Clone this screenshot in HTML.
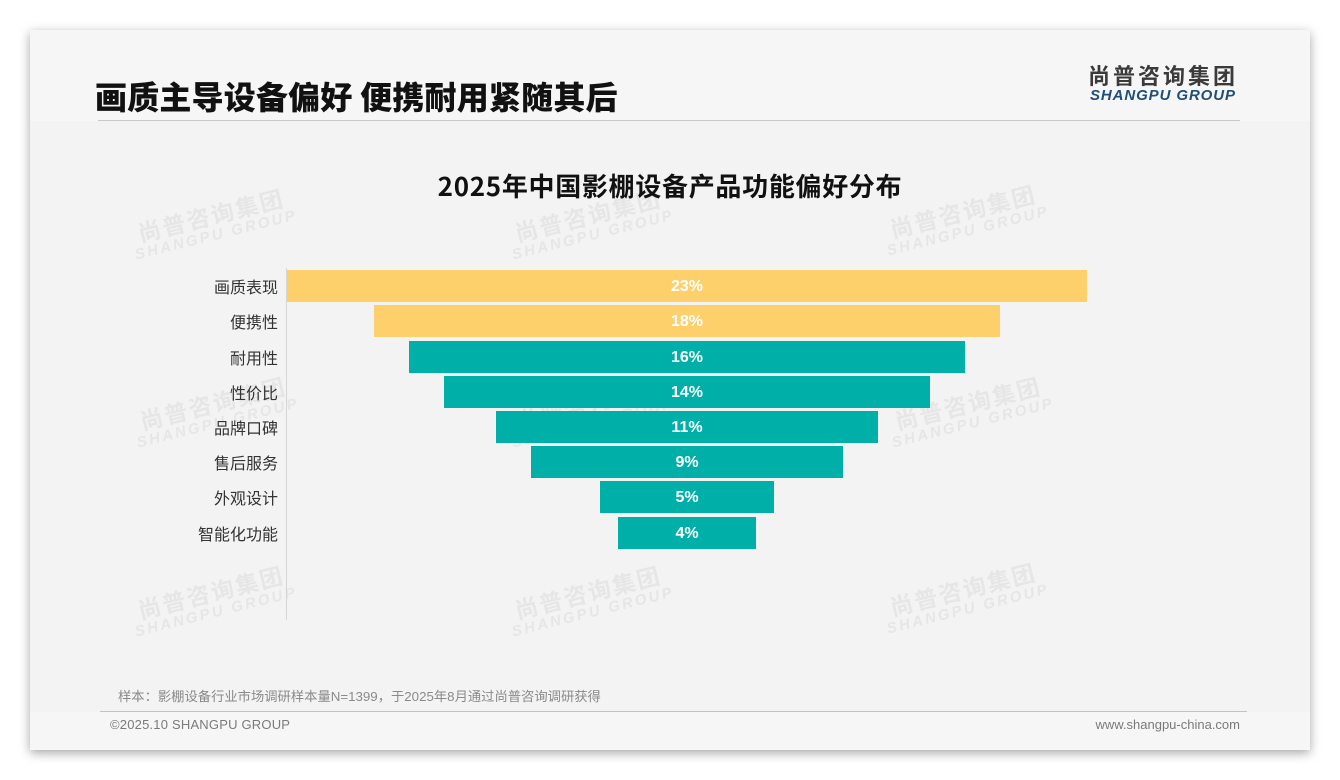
<!DOCTYPE html>
<html>
<head>
<meta charset="utf-8">
<style>
*{margin:0;padding:0;box-sizing:border-box;}
html,body{width:1340px;height:780px;background:#ffffff;overflow:hidden;}
body{position:relative;font-family:"Liberation Sans","Noto Sans CJK SC",sans-serif;}
.card{position:absolute;left:30px;top:30px;width:1280px;height:720px;background:#f3f3f3;box-shadow:0 3px 10px rgba(0,0,0,0.35);overflow:hidden;}
.hdr{position:absolute;left:0;top:0;width:1280px;height:91px;background:#f6f6f6;}
.ftr{position:absolute;left:0;top:682px;width:1280px;height:38px;background:#f6f6f6;}
.abs{position:absolute;white-space:nowrap;}
.wm{position:absolute;transform:rotate(-14deg);color:#e6e6e6;text-align:center;line-height:1;white-space:nowrap;width:180px;}
.wm .c{font-family:"Noto Sans CJK SC",sans-serif;font-weight:700;font-size:23px;letter-spacing:2px;}
.wm .e{font-family:"Liberation Sans",sans-serif;font-weight:700;font-style:italic;font-size:15px;letter-spacing:2.5px;margin-top:2px;}
.bar{position:absolute;height:32px;color:#fff;font-family:"Liberation Sans",sans-serif;font-weight:700;font-size:16px;line-height:34px;text-align:center;}
.y{background:#fdd06b;}
.t{background:#00b0a8;}
.lbl{position:absolute;right:1062px;height:32px;line-height:32px;font-family:"Noto Sans CJK SC",sans-serif;font-size:16px;color:#333;text-align:right;white-space:nowrap;}
</style>
</head>
<body>
<div class="card">
  <div class="hdr"></div>
  <div class="ftr"></div>
</div>

<!-- watermarks -->
<div class="wm" style="left:123px;top:203px;"><div class="c">尚普咨询集团</div><div class="e">SHANGPU GROUP</div></div>
<div class="wm" style="left:500px;top:203px;"><div class="c">尚普咨询集团</div><div class="e">SHANGPU GROUP</div></div>
<div class="wm" style="left:875px;top:199px;"><div class="c">尚普咨询集团</div><div class="e">SHANGPU GROUP</div></div>
<div class="wm" style="left:125px;top:391px;"><div class="c">尚普咨询集团</div><div class="e">SHANGPU GROUP</div></div>
<div class="wm" style="left:500px;top:391px;"><div class="c">尚普咨询集团</div><div class="e">SHANGPU GROUP</div></div>
<div class="wm" style="left:880px;top:391px;"><div class="c">尚普咨询集团</div><div class="e">SHANGPU GROUP</div></div>
<div class="wm" style="left:123px;top:580px;"><div class="c">尚普咨询集团</div><div class="e">SHANGPU GROUP</div></div>
<div class="wm" style="left:500px;top:580px;"><div class="c">尚普咨询集团</div><div class="e">SHANGPU GROUP</div></div>
<div class="wm" style="left:875px;top:577px;"><div class="c">尚普咨询集团</div><div class="e">SHANGPU GROUP</div></div>

<!-- heading -->
<div class="abs" style="left:95px;top:79px;font-family:'Noto Sans CJK SC',sans-serif;font-weight:900;font-size:32px;line-height:34px;letter-spacing:0.2px;color:#111;">画质主导设备偏好 便携耐用紧随其后</div>
<div class="abs" style="left:98px;top:120px;width:1142px;height:1px;background:#c8c8c8;"></div>

<!-- logo -->
<div class="abs" style="left:1088px;top:63px;font-family:'Noto Sans CJK SC',sans-serif;font-weight:700;font-size:22px;line-height:25px;letter-spacing:3px;color:#3a3a3a;">尚普咨询集团</div>
<div class="abs" style="left:1090px;top:87px;font-family:'Liberation Sans',sans-serif;font-weight:700;font-style:italic;font-size:15px;line-height:17px;letter-spacing:0.9px;color:#1f4e79;">SHANGPU GROUP</div>

<!-- chart title -->
<div class="abs" style="left:370px;top:170px;width:600px;text-align:center;font-family:'Noto Sans CJK SC',sans-serif;font-weight:700;font-size:26px;line-height:32px;letter-spacing:0.7px;color:#111;">2025年中国影棚设备产品功能偏好分布</div>

<!-- axis -->
<div class="abs" style="left:286px;top:268px;width:1px;height:352px;background:#d6d6d6;"></div>

<!-- labels -->
<div class="lbl" style="top:270px;">画质表现</div>
<div class="lbl" style="top:305px;">便携性</div>
<div class="lbl" style="top:341px;">耐用性</div>
<div class="lbl" style="top:376px;">性价比</div>
<div class="lbl" style="top:411px;">品牌口碑</div>
<div class="lbl" style="top:446px;">售后服务</div>
<div class="lbl" style="top:481px;">外观设计</div>
<div class="lbl" style="top:517px;">智能化功能</div>

<!-- bars -->
<div class="bar y" style="left:287px;width:800px;top:270px;">23%</div>
<div class="bar y" style="left:374px;width:626px;top:305px;">18%</div>
<div class="bar t" style="left:409px;width:556px;top:341px;">16%</div>
<div class="bar t" style="left:444px;width:486px;top:376px;">14%</div>
<div class="bar t" style="left:496px;width:382px;top:411px;">11%</div>
<div class="bar t" style="left:531px;width:312px;top:446px;">9%</div>
<div class="bar t" style="left:600px;width:174px;top:481px;">5%</div>
<div class="bar t" style="left:618px;width:138px;top:517px;">4%</div>

<!-- footer -->
<div class="abs" style="left:118px;top:688px;font-family:'Liberation Sans','Noto Sans CJK SC',sans-serif;font-size:13.3px;line-height:18px;color:#8a8a8a;">样本：影棚设备行业市场调研样本量N=1399，于2025年8月通过尚普咨询调研获得</div>
<div class="abs" style="left:100px;top:711px;width:1147px;height:1px;background:#b4c6d8;"></div>
<div class="abs" style="left:110px;top:717px;font-family:'Liberation Sans',sans-serif;font-size:13px;line-height:16px;letter-spacing:0.2px;color:#7a7a7a;">©2025.10 SHANGPU GROUP</div>
<div class="abs" style="left:1040px;width:200px;text-align:right;top:717px;font-family:'Liberation Sans',sans-serif;font-size:13px;line-height:16px;color:#7a7a7a;">www.shangpu-china.com</div>
</body>
</html>
